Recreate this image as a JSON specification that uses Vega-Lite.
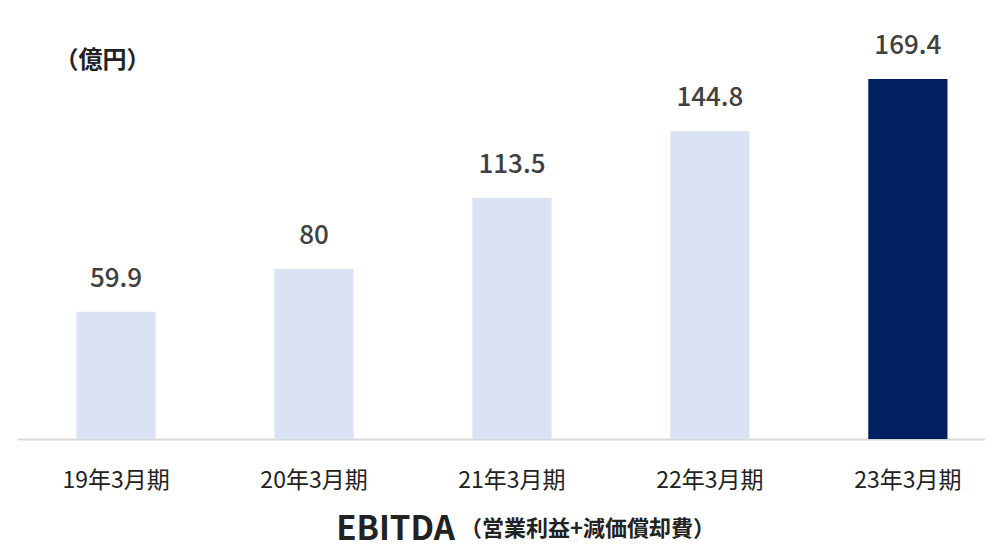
{
  "$schema": "https://vega.github.io/schema/vega-lite/v6.json",
  "width": 968,
  "height": 439,
  "autosize": {"type": "none"},
  "padding": {"left": 17, "top": 0, "right": 0, "bottom": 108},
  "background": "white",
  "config": {
    "view": {"stroke": null},
    "font": "Noto Sans CJK JP"
  },
  "title": {
    "text": "（営業利益+減価償却費）",
    "orient": "bottom",
    "anchor": "start",
    "frame": "group",
    "dx": 443,
    "dy": -31,
    "fontSize": 22,
    "fontWeight": "bold",
    "color": "#222222",
    "font": "Noto Sans CJK JP"
  },
  "data": {
    "values": [
      {"period": "19年3月期", "ebitda": 59.9},
      {"period": "20年3月期", "ebitda": 80},
      {"period": "21年3月期", "ebitda": 113.5},
      {"period": "22年3月期", "ebitda": 144.8},
      {"period": "23年3月期", "ebitda": 169.4}
    ]
  },
  "encoding": {
    "x": {
      "field": "period",
      "type": "nominal",
      "sort": null,
      "scale": {"paddingInner": 0.6, "paddingOuter": 0.245, "align": 0.613},
      "axis": {
        "title": "EBITDA",
        "titleFontSize": 33,
        "titleFontWeight": "bold",
        "titleColor": "#222222",
        "titleFont": "Noto Sans CJK JP",
        "titleAlign": "center",
        "titleBaseline": "bottom",
        "titleX": 378,
        "titleY": 107,
        "labelAngle": 0,
        "labelFontSize": 23,
        "labelColor": "#222222",
        "labelBaseline": "alphabetic",
        "labelPadding": 48,
        "ticks": false,
        "tickSize": 0,
        "domainColor": "#d9d9d9",
        "domainWidth": 2
      }
    },
    "y": {
      "field": "ebitda",
      "type": "quantitative",
      "scale": {"domain": [0, 206.6]},
      "axis": {
        "title": "（億円）",
        "titleAngle": 0,
        "titleAlign": "left",
        "titleBaseline": "middle",
        "titleX": 37,
        "titleY": 60,
        "titleFontSize": 24,
        "titleFontWeight": "bold",
        "titleColor": "#222222",
        "labels": false,
        "ticks": false,
        "domain": false,
        "grid": false
      }
    }
  },
  "layer": [
    {
      "mark": {"type": "bar"},
      "encoding": {
        "color": {
          "condition": {"test": "datum.period === '23年3月期'", "value": "#002060"},
          "value": "#dae3f3"
        }
      }
    },
    {
      "mark": {
        "type": "text",
        "baseline": "alphabetic",
        "dy": -25,
        "fontSize": 26,
        "fontWeight": 500,
        "color": "#404040"
      },
      "encoding": {
        "text": {"field": "ebitda", "type": "quantitative"}
      }
    }
  ]
}
